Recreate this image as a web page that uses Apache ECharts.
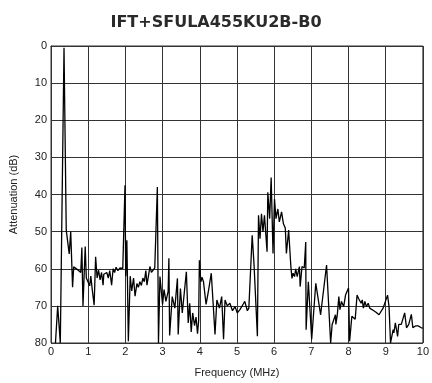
<!DOCTYPE html>
<html>
<head>
<meta charset="utf-8">
<script src="https://cdn.jsdelivr.net/npm/echarts@6/dist/echarts.min.js"></script>
<style>html,body{margin:0;padding:0;background:#fff}#c{width:432px;height:383px}</style>
</head>
<body>
<div id="c"></div>
<script>
const titleText = "IFT+SFULA455KU2B-B0";
const xAxisName = "Frequency (MHz)";
const yAxisName = "Attenuation (dB)";
const xTicks = [0,1,2,3,4,5,6,7,8,9,10];
const yTicks = [0,10,20,30,40,50,60,70,80];

const freqMHz = [
0.12,0.18,0.25,0.28,0.35,0.41,0.49,0.53,0.58,0.61,0.66,0.72,0.77,0.80,0.83,0.86,0.92,0.95,
1.00,1.04,1.07,1.11,1.16,1.20,1.24,1.28,1.32,1.36,1.40,1.42,1.46,1.50,1.54,1.58,1.63,1.67,1.71,1.75,1.80,1.85,1.89,1.93,1.97,1.99,
2.01,2.04,2.08,2.13,2.17,2.22,2.26,2.31,2.35,2.39,2.43,2.47,2.51,2.55,2.58,2.62,2.66,2.70,2.74,2.79,2.83,2.86,2.89,2.93,
3.00,3.04,3.09,3.15,3.17,3.19,3.26,3.33,3.40,3.42,3.48,3.53,3.64,3.69,3.73,3.77,3.81,3.86,3.90,3.94,3.97,3.99,
4.03,4.06,4.10,4.17,4.24,4.31,4.37,4.41,4.46,4.53,4.59,4.64,4.68,4.74,4.81,4.88,4.95,
5.01,5.08,5.17,5.21,5.28,5.32,5.41,5.46,5.55,5.58,5.62,5.66,5.70,5.74,5.81,5.83,5.88,5.92,5.97,
6.01,6.05,6.10,6.14,6.20,6.25,6.30,6.33,6.39,6.45,6.48,6.51,6.55,6.58,6.62,6.68,6.70,6.75,6.81,6.85,6.86,6.92,
7.01,7.12,7.25,7.41,7.52,7.56,7.60,7.65,7.66,7.70,7.74,7.77,7.81,7.87,7.92,
8.00,8.03,8.09,8.18,8.23,8.27,8.34,8.37,8.40,8.44,8.48,8.53,8.57,8.61,8.68,8.74,8.82,8.93,
9.05,9.09,9.13,9.20,9.22,9.26,9.32,9.35,9.42,9.51,9.56,9.62,9.69,9.73,9.80,9.87,9.96,10.0
];
const attenDb = [
80,70,80,80,0.5,49.6,56,50,65,59.5,60,60.3,60.6,61,54.3,70,54,62.5,
62.6,64.6,62,65.7,69.8,56.8,62.5,60.4,63,61,64.4,61.5,61.8,61,62.5,60.5,64.4,60,61,59.6,60.5,59.8,59.4,59.9,59.8,37.5,
62,52.3,79.5,62,66,62.5,67.4,64,65,63.5,64.5,62.5,63.5,60.5,64.4,62,59.4,61,60.5,59.8,59.8,38,80,62.1,
69.6,65.6,68.8,66.1,57.2,78,67.5,70.6,62.6,77.7,65.3,71.9,60.8,74.6,69.3,77,71.9,75.3,73,77.5,74,57.7,
63.5,62.3,63.5,69.6,65.6,61.2,71,77.7,68.4,70.6,67.5,79,68.4,70,69.3,71.3,70.2,
71.9,71,69.5,68.8,71.3,70.6,51,59,78.2,45.6,51.9,45.2,50.1,45.6,55.4,39.4,46.5,35.4,55.9,
41.2,46.5,43.9,47.4,44.7,47.9,49,55.9,49.6,59.4,62.6,61.2,62.1,60,62.1,59.4,64.8,59.4,59.8,52.8,76.4,63.5,
79,63.9,72.4,59,80,75,74.6,72.4,75,72.3,67.5,71,68.8,70.2,67.1,
65.2,79.5,72.8,73.6,67.1,68,69.3,68.4,70.6,68.8,70.2,69.3,70.6,70.2,71.3,71.7,72.4,70.6,
67.1,70.2,80,76.4,77.3,74.6,78.2,75,75,71.9,75.9,75,72.3,75.9,75.4,75.4,75.9,76
];

const points = freqMHz.map((f, i) => [f, attenDb[i]]);
const chart = echarts.init(document.getElementById('c'), null, {renderer: 'canvas'});
const font = '"Liberation Sans", Arial, sans-serif';
chart.setOption({
  animation: false,
  backgroundColor: '#fff',
  title: {
    text: titleText, left: 'center', top: 10,
    textStyle: {fontFamily: '"DejaVu Sans", sans-serif', fontSize: 16, fontWeight: 'bold', color: '#2a2a2a'}
  },
  grid: {left: 49, right: 7, top: 46, bottom: 38, show: true, borderColor: '#333', borderWidth: 1},
  xAxis: {
    type: 'value', min: xTicks[0], max: xTicks[xTicks.length - 1], interval: 1,
    name: xAxisName, nameLocation: 'middle', nameGap: 24,
    nameTextStyle: {fontFamily: font, fontSize: 11, color: '#222'},
    axisLine: {show: true, lineStyle: {color: '#333', width: 1}},
    axisTick: {show: false},
    axisLabel: {fontFamily: font, fontSize: 11, color: '#222', margin: 3},
    splitLine: {show: true, lineStyle: {color: '#333', width: 1}}
  },
  yAxis: {
    type: 'value', min: yTicks[0], max: yTicks[yTicks.length - 1], interval: 10, inverse: true,
    name: yAxisName, nameLocation: 'middle', nameGap: 32,
    nameTextStyle: {fontFamily: font, fontSize: 11, color: '#222'},
    axisLine: {show: true, lineStyle: {color: '#333', width: 1}},
    axisTick: {show: false},
    axisLabel: {fontFamily: font, fontSize: 11, color: '#222', margin: 4},
    splitLine: {show: true, lineStyle: {color: '#333', width: 1}}
  },
  series: [{
    type: 'line', data: points, showSymbol: false, symbol: 'none', clip: true,
    lineStyle: {color: '#000', width: 1.3}
  }]
});
</script>
</body>
</html>
